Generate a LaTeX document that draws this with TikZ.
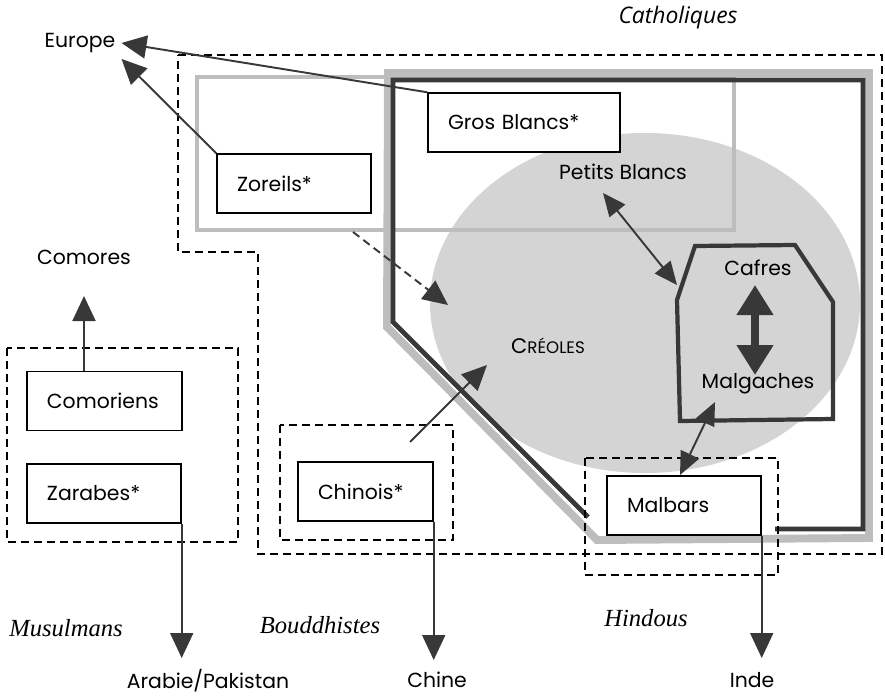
\documentclass[tikz,border=0pt]{standalone}
\usepackage{fontspec}
\usepackage{xcolor}
\setmainfont{Poppins}
\newfontfamily\relfont{Liberation Serif}
\newfontfamily\catfont{Open Sans}
\usetikzlibrary{arrows.meta}

\definecolor{ink}{gray}{0.22}
\definecolor{band}{gray}{0.74}
\definecolor{creole}{gray}{0.83}

\begin{document}
\begin{tikzpicture}[x=0.2mm,y=-0.2mm,
  group/.style={draw=black, fill=white, line width=0.8pt, minimum height=11.8mm,
    inner xsep=4mm, align=left, font=\fontsize{11.6}{14}\selectfont},
  zone/.style={draw=black, line width=1.1pt, dash pattern=on 1.6mm off 1mm},
  arr/.style={draw=ink, line width=1.1pt, -{Triangle[length=5mm,width=4.6mm]}},
  darr/.style={draw=ink, line width=1.1pt,
    {Triangle[length=4.6mm,width=4mm]}-{Triangle[length=4.6mm,width=4mm]}},
  bigarr/.style={draw=ink, line width=4.5pt,
    {Triangle[length=6mm,width=7mm]}-{Triangle[length=6mm,width=7mm]}},
  religion/.style={font=\relfont\itshape\fontsize{14}{16}\selectfont},
  place/.style={font=\fontsize{11.6}{14}\selectfont}]
  \useasboundingbox (0,0) rectangle (885,697);

  % Draw the creole cloud
  \fill[creole] (645,303) ellipse [x radius=43mm, y radius=34mm];

  % Zoreils zone and the border of the creole zone
  \draw[band, line width=1.8pt] (197,77) rectangle (734,230);
  \draw[band, line width=4.5pt] (388,73) -- (869,73) -- (869,538) -- (597,540) -- (387,327) -- cycle;
  \draw[ink, line width=2.8pt] (588,517) -- (393,322) -- (393,80) -- (863,80) -- (863,529) -- (775,529);

  % Religion zones
  \draw[zone] (178,55) -- (882,55) -- (882,554) -- (258,554) -- (258,252) -- (178,252) -- cycle;
  \draw[zone] (7,348) rectangle (238,542);
  \draw[zone] (280,425) rectangle (453,540);
  \draw[zone] (585,458) rectangle (778,575);

  % Cafres and Malgaches
  \draw[ink, line width=2.4pt, line join=miter]
    (680,421) -- (677,300) -- (695,246) -- (795,245) -- (833,302) -- (833,419) -- cycle;

  % Groups in boxes
  \node[group, text width=30.4mm] (grosblancs) at (524,122.5) {Gros Blancs*};
  \node[group, text width=22.8mm] (zoreils) at (294,183.5) {Zoreils*};
  \node[group, text width=23mm] (comoriens) at (104.5,401) {Comoriens};
  \node[group, text width=22.8mm] (zarabes) at (104,493.5) {Zarabes*};
  \node[group, text width=19mm] (chinois) at (365.5,491.5) {Chinois*};
  \node[group, text width=22.8mm] (malbars) at (684,505.5) {Malbars};

  % Groups without boxes
  \node[place] (petitsblancs) at (623,172) {Petits Blancs};
  \node[place] (cafres) at (758,268) {Cafres};
  \node[place] (malgaches) at (758,384) {Malgaches};
  \node[place] (creoles) at (548,346) {\fontsize{12}{14}\selectfont C\fontsize{9.5}{12}\selectfont RÉOLES};

  % Places
  \node[place] (europe) at (80,43) {Europe};
  \node[place] (comores) at (84,257) {Comores};
  \node[place] (arabie) at (208,681) {Arabie/Pakistan};
  \node[place] (chine) at (437,680) {Chine};
  \node[place] (inde) at (752,680) {Inde};

  % Religions
  \node[font=\catfont\itshape\fontsize{13}{15}\selectfont] (catholiques) at (678,18) {Catholiques};
  \node[religion] (musulmans) at (66,628) {Musulmans};
  \node[religion] (bouddhistes) at (320,625) {Bouddhistes};
  \node[religion] (hindous) at (646,618) {Hindous};

  % Arrow ends
  \coordinate (comtip) at (84,296);
  \coordinate (arabtip) at (182,658);
  \coordinate (chinetip) at (433,660);
  \coordinate (indetip) at (761,658);
  \coordinate (zrout) at (353,232);
  \coordinate (creoletip) at (448,305);
  \coordinate (chinout) at (410,442);
  \coordinate (chintip) at (487,365);
  \coordinate (pbtip) at (603,193);
  \coordinate (caftip) at (677,285);
  \coordinate (malgtip) at (715,402);
  \coordinate (malbtip) at (680,475);
  \coordinate (cafarr) at (755,285);
  \coordinate (malarr) at (755,375);

  % Migrations
  \draw[arr] (grosblancs.north west) -- (europe.east);
  \draw[arr] (zoreils.north west) -- (europe.south east);
  \draw[arr] (comoriens.north -| comtip) -- (comtip);
  \draw[arr] (zarabes.south east) -- (zarabes.south east |- arabtip);
  \draw[arr] (chinois.south east) -- (chinois.south east |- chinetip);
  \draw[arr] (malbars.south east) -- (malbars.south east |- indetip);

  % Links inside the island
  \draw[arr, dash pattern=on 1.6mm off 1mm] (zrout) -- (creoletip);
  \draw[arr] (chinout) -- (chintip);
  \draw[darr] (pbtip) -- (caftip);
  \draw[darr] (malgtip) -- (malbtip);
  \draw[bigarr] (cafarr) -- (malarr);
\end{tikzpicture}
\end{document}
